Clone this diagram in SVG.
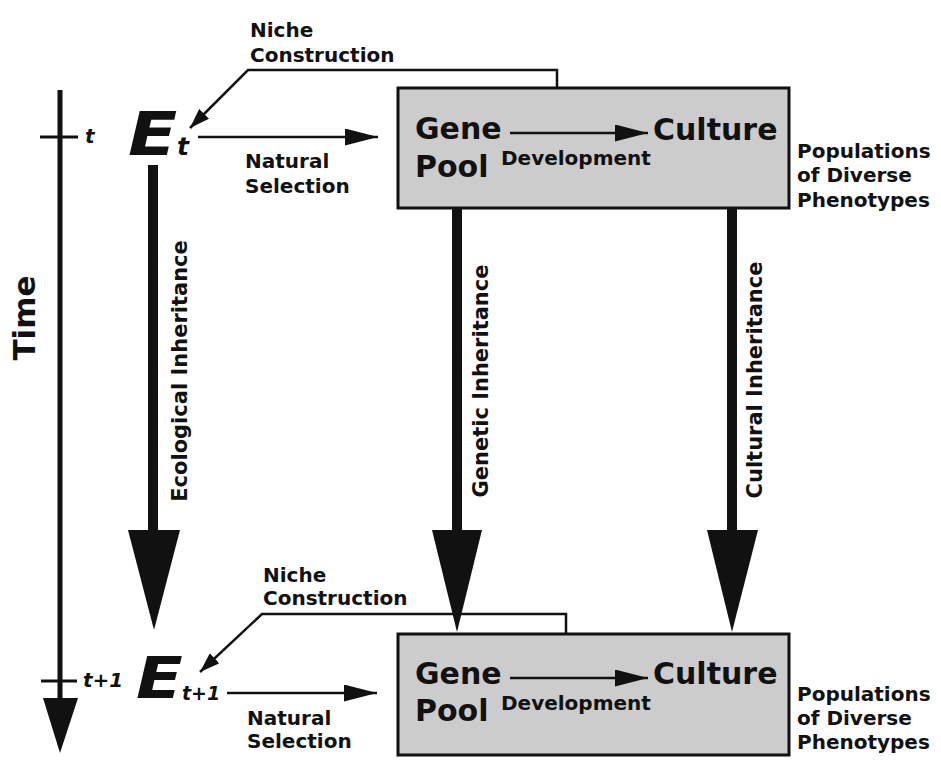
<svg xmlns="http://www.w3.org/2000/svg" width="941" height="761" viewBox="0 0 941 761">
<defs>
<style>
text{font-family:"DejaVu Sans","Verdana",sans-serif;font-weight:bold;fill:#111}
.lbl{font-size:20px}
.rot{font-size:21px;text-anchor:middle}
.big{font-size:30px}
.dev{font-size:20px}
.it{font-style:italic}
.box{fill:#cccccc;stroke:#111;stroke-width:3}
.thin{fill:none;stroke:#111;stroke-width:2.5}
.thick{stroke:#111;stroke-width:10;fill:none}
.head{fill:#111}
</style>
<marker id="ah" markerUnits="userSpaceOnUse" markerWidth="33" markerHeight="17" viewBox="0 0 33 17" refX="33" refY="8.5" orient="auto"><path d="M0,0 L33,8.5 L0,17 z" fill="#111"/></marker>
<marker id="as" markerUnits="userSpaceOnUse" markerWidth="20" markerHeight="14" viewBox="0 0 20 14" refX="20" refY="7" orient="auto"><path d="M0,0 L20,7 L0,14 z" fill="#111"/></marker>
</defs>
<rect width="941" height="761" fill="#fff"/>

<g id="time-axis">
<line x1="60" y1="90" x2="60" y2="702" stroke="#111" stroke-width="5"/>
<polygon class="head" points="43,698 78,698 60,753"/>
<line x1="40" y1="137" x2="78" y2="137" stroke="#111" stroke-width="3"/>
<line x1="41" y1="681" x2="77" y2="681" stroke="#111" stroke-width="3"/>
<text class="lbl it" x="85" y="143">t</text>
<text class="lbl it" x="83" y="687">t+1</text>
<text style="font-size:31px;text-anchor:middle" transform="translate(35,318) rotate(-90)">Time</text>
</g>

<g id="connectors">
<line class="thick" x1="153" y1="165" x2="153" y2="532"/>
<polygon class="head" points="128,530 180,530 154,630"/>
<line class="thick" x1="457" y1="208" x2="457" y2="532"/>
<polygon class="head" points="432,530 482,530 457,632"/>
<line class="thick" x1="732" y1="208" x2="732" y2="532"/>
<polygon class="head" points="707,530 758,530 732,632"/>
<line class="thin" x1="198" y1="137" x2="378" y2="137" marker-end="url(#ah)"/>
<line class="thin" x1="227" y1="693" x2="377" y2="693" marker-end="url(#ah)"/>
<polyline class="thin" points="557,88 557,70 248,70 190,128" marker-end="url(#as)"/>
<polyline class="thin" points="566,634 566,614 262,614 200,672" marker-end="url(#as)"/>
<text class="rot" transform="translate(187,371) rotate(-90)">Ecological Inheritance</text>
<text class="rot" transform="translate(488,381) rotate(-90)">Genetic Inheritance</text>
<text class="rot" transform="translate(762,380) rotate(-90)">Cultural Inheritance</text>
<text class="lbl" x="250" y="37">Niche</text>
<text class="lbl" x="250" y="62">Construction</text>
<text class="lbl" x="245" y="168">Natural</text>
<text class="lbl" x="245" y="193">Selection</text>
<text class="lbl" x="263" y="582">Niche</text>
<text class="lbl" x="263" y="605">Construction</text>
<text class="lbl" x="247" y="725">Natural</text>
<text class="lbl" x="247" y="748">Selection</text>
</g>

<g id="E-t">
<text class="it" style="font-size:60px" transform="translate(128,155) scale(1.2,1)">E</text>
<text class="it" style="font-size:25px" x="177" y="155">t</text>
</g>

<g id="E-t1">
<text class="it" style="font-size:57px" transform="translate(136,698) scale(1.2,1)">E</text>
<text class="it" style="font-size:19px" x="182" y="700">t+1</text>
</g>

<g id="population-t">
<rect class="box" x="398" y="88" width="391" height="120"/>
<text class="big" x="415" y="139">Gene</text>
<text class="big" x="415" y="177">Pool</text>
<text class="big" x="653" y="140">Culture</text>
<line class="thin" x1="510" y1="133" x2="648" y2="133" marker-end="url(#ah)"/>
<text class="dev" x="501" y="165">Development</text>
<text class="lbl" x="797" y="158">Populations</text>
<text class="lbl" x="797" y="182">of Diverse</text>
<text class="lbl" x="797" y="207">Phenotypes</text>
</g>

<g id="population-t1">
<rect class="box" x="398" y="634" width="391" height="121"/>
<text class="big" x="415" y="684">Gene</text>
<text class="big" x="415" y="721">Pool</text>
<text class="big" x="653" y="684">Culture</text>
<line class="thin" x1="510" y1="678" x2="648" y2="678" marker-end="url(#ah)"/>
<text class="dev" x="501" y="710">Development</text>
<text class="lbl" x="797" y="701">Populations</text>
<text class="lbl" x="797" y="725">of Diverse</text>
<text class="lbl" x="797" y="749">Phenotypes</text>
</g>
</svg>
